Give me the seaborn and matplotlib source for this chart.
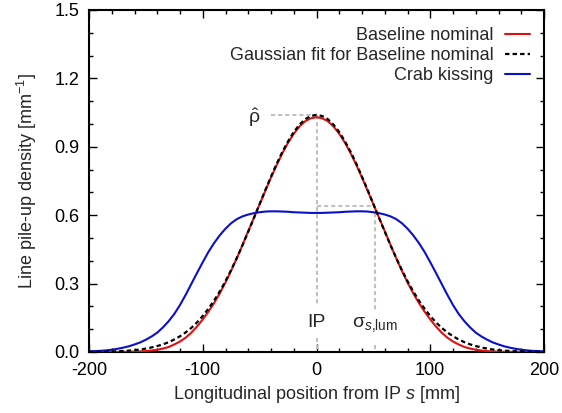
import numpy as np
import pandas as pd
import seaborn as sns
import matplotlib
matplotlib.use("Agg")
import matplotlib.pyplot as plt
from matplotlib.ticker import MultipleLocator

# Longitudinal position from the IP [mm], positive half (profiles are symmetric)
s_half = [0, 5, 10, 15, 20, 25, 30, 35, 40, 45, 50, 55, 60, 65, 70, 75, 80,
          85, 90, 95, 100, 105, 110, 115, 120, 125, 130, 135, 140, 145, 150,
          155, 160, 165, 170, 175, 180, 185, 190, 195, 200]

# Line pile-up density [1/mm] at the positions above
baseline_half = [1.030, 1.025, 1.012, 0.989, 0.957, 0.918, 0.872, 0.820, 0.765,
                 0.707, 0.648, 0.589, 0.530, 0.470, 0.412, 0.357, 0.305, 0.258,
                 0.215, 0.177, 0.143, 0.112, 0.085, 0.063, 0.046, 0.033, 0.022,
                 0.015, 0.010, 0.0065, 0.004, 0.0025, 0.0015, 0.0009, 0.0005,
                 0.0003, 0.0002, 0.0001, 0.0001, 0.0, 0.0]

gaussian_half = [1.040, 1.035, 1.021, 0.997, 0.965, 0.924, 0.878, 0.826, 0.769,
                 0.710, 0.649, 0.588, 0.528, 0.469, 0.413, 0.360, 0.311, 0.266,
                 0.226, 0.190, 0.158, 0.130, 0.106, 0.086, 0.069, 0.055, 0.043,
                 0.0335, 0.026, 0.020, 0.015, 0.011, 0.008, 0.006, 0.0045,
                 0.0032, 0.0023, 0.0016, 0.0011, 0.0008, 0.0005]

crab_half = [0.610, 0.610, 0.611, 0.612, 0.613, 0.615, 0.616, 0.617, 0.617,
             0.616, 0.613, 0.609, 0.603, 0.595, 0.583, 0.565, 0.541, 0.512,
             0.478, 0.439, 0.394, 0.347, 0.299, 0.251, 0.206, 0.167, 0.135,
             0.108, 0.085, 0.068, 0.054, 0.042, 0.033, 0.025, 0.019, 0.014,
             0.010, 0.007, 0.005, 0.004, 0.003]

# Gaussian fit parameters marked on the plot
rho_hat = 1.04
sigma_lum = 51.5
rho_at_sigma = 0.64

x_ticks = [-200, -100, 0, 100, 200]
y_ticks = [0.0, 0.3, 0.6, 0.9, 1.2, 1.5]


def mirror(half, sign=1):
    """Full symmetric profile from the s >= 0 half."""
    return [sign * v for v in half[::-1][:-1]] + list(half)


sns.set_theme(style="ticks")
plt.rcParams["font.family"] = ["Liberation Sans", "DejaVu Sans"]
plt.rcParams["mathtext.fontset"] = "custom"
plt.rcParams["mathtext.rm"] = "Liberation Sans"
plt.rcParams["mathtext.it"] = "Liberation Sans:italic"
plt.rcParams["mathtext.bf"] = "Liberation Sans:bold"

FS = 13

fig = plt.figure(figsize=(5.62, 4.13), dpi=100)
ax = fig.add_axes([89 / 562, 61 / 413, 455 / 562, 342 / 413])

df = pd.DataFrame({"s": mirror(s_half, -1),
                   "base": mirror(baseline_half),
                   "fit": mirror(gaussian_half),
                   "crab": mirror(crab_half)})

# guide lines for the peak value and the luminous-region width
grey = dict(color="#c0c0c0", lw=1.5, ls=(0, (2.0, 1.4)), zorder=1)
ax.plot([-40, 0], [rho_hat, rho_hat], **grey)
ax.plot([0, 0], [rho_hat, 0.205], **grey)
ax.plot([0, 0], [0.06, 0.0], **grey)
ax.plot([0, sigma_lum], [rho_at_sigma, rho_at_sigma], **grey)
ax.plot([sigma_lum, sigma_lum], [rho_at_sigma, 0.184], **grey)
ax.plot([sigma_lum, sigma_lum], [0.03, 0.0], **grey)

sns.lineplot(data=df, x="s", y="base", color="#e01010", lw=1.5,
             label="Baseline nominal", ax=ax, zorder=3)
sns.lineplot(data=df, x="s", y="fit", color="black", lw=1.6,
             linestyle=(0, (2.0, 1.4)), label="Gaussian fit for Baseline nominal",
             ax=ax, zorder=4)
sns.lineplot(data=df, x="s", y="crab", color="#0a10c8", lw=1.5,
             label="Crab kissing", ax=ax, zorder=3)

ax.text(-55, 1.03, r"$\hat{\mathrm{\rho}}$", fontsize=FS + 1, ha="center", va="center")
ax.text(0, 0.13, "IP", fontsize=FS + 1, ha="center", va="center")
ax.text(51, 0.12, r"$\mathrm{\sigma}_{s{,}\mathrm{lum}}$", fontsize=FS + 1,
        ha="center", va="center")

ax.set_xlim(-200, 200)
ax.set_ylim(0, 1.5)
ax.set_xticks(x_ticks)
ax.set_xticklabels([f"{v:d}" for v in x_ticks])
ax.set_yticks(y_ticks)
ax.set_yticklabels([f"{v:.1f}" for v in y_ticks])
ax.xaxis.set_minor_locator(MultipleLocator(20))
ax.yaxis.set_minor_locator(MultipleLocator(0.1))
ax.tick_params(which="both", direction="in", top=True, right=True,
               color="black", labelsize=FS, labelcolor="black")
ax.tick_params(which="major", length=6, width=1.0, pad=7)
ax.tick_params(which="minor", length=3, width=1.0)
for sp in ax.spines.values():
    sp.set_visible(True)
    sp.set_color("black")
    sp.set_linewidth(1.5)

ax.set_xlabel("Longitudinal position from IP $s$ [mm]", fontsize=FS, labelpad=4)
ax.set_ylabel("Line pile-up density [mm$^{-1}$]", fontsize=FS, labelpad=11)

leg = ax.legend(loc="upper right", bbox_to_anchor=(0.985, 0.97), frameon=False,
                markerfirst=False, fontsize=FS, handlelength=1.4,
                handletextpad=0.6, labelspacing=0.15, borderaxespad=0.0)

fig.savefig("out.png", dpi=100)
